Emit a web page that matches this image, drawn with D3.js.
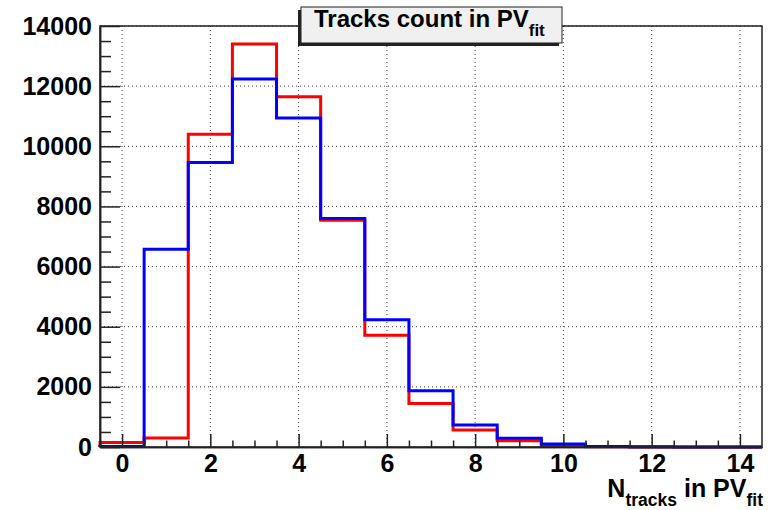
<!DOCTYPE html>
<html>
<head>
<meta charset="utf-8">
<script src="https://cdn.jsdelivr.net/npm/d3@7"></script>
<style>
  body { margin: 0; background: #fff; }
  svg { display: block; font-family: "Liberation Sans", Arial, sans-serif; font-weight: bold; }
</style>
</head>
<body>
<div id="chart"></div>
<script>
// bin centers 0..14 (bin width 1)
const bins = d3.range(0, 15);
// two histograms, counts per bin
const redCounts = [150, 300, 10400, 13400, 11650, 7540, 3720, 1450, 565, 210, 60, 10, 0, 0, 0];
const blueCounts = [20, 6580, 9460, 12240, 10940, 7600, 4230, 1870, 730, 290, 100, 15, 5, 0, 0];
const xTicks = [0, 2, 4, 6, 8, 10, 12, 14];
const yTicks = [0, 2000, 4000, 6000, 8000, 10000, 12000, 14000];

const width = 768;
const height = 510;
const margin = { top: 26, right: 6, bottom: 63, left: 100 };

const svg = d3.select('#chart')
  .append('svg')
  .attr('width', width)
  .attr('height', height);

// x-as: van -0.5 tot 14.5
const x = d3.scaleLinear()
  .domain([-0.5, 14.5])
  .range([margin.left, width - margin.right]);

const y = d3.scaleLinear()
  .domain([0, 14000])
  .range([height - margin.bottom, margin.top]);

// grid (stippellijnen)
const grid = svg.append('g')
  .attr('stroke', '#444')
  .attr('stroke-width', 1)
  .attr('stroke-dasharray', '1,3');

grid.selectAll('.gx')
  .data(xTicks)
  .join('line')
  .attr('x1', d => x(d)).attr('x2', d => x(d))
  .attr('y1', y(0)).attr('y2', y(14000));

grid.selectAll('.gy')
  .data(yTicks.slice(1))
  .join('line')
  .attr('x1', x(-0.5)).attr('x2', x(14.5))
  .attr('y1', d => y(d)).attr('y2', d => y(d));

// histogram als step-lijn
function stepPoints(counts) {
  const pts = [[-0.5, 0]];
  counts.forEach((c, i) => pts.push([bins[i] - 0.5, c]));
  pts.push([14.5, counts[counts.length - 1]]);
  pts.push([14.5, 0]);
  return pts;
}

const line = d3.line()
  .x(d => x(d[0]))
  .y(d => y(d[1]))
  .curve(d3.curveStepAfter);

svg.append('path')
  .datum(stepPoints(redCounts))
  .attr('fill', 'none')
  .attr('stroke', '#ff0000')
  .attr('stroke-width', 3)
  .attr('d', line);

svg.append('path')
  .datum(stepPoints(blueCounts))
  .attr('fill', 'none')
  .attr('stroke', '#0000ff')
  .attr('stroke-width', 3)
  .attr('d', line);

// frame
svg.append('rect')
  .attr('x', x(-0.5))
  .attr('y', y(14000))
  .attr('width', x(14.5) - x(-0.5))
  .attr('height', y(0) - y(14000))
  .attr('fill', 'none')
  .attr('stroke', '#222')
  .attr('stroke-width', 1.5);

// y-as
svg.append('g')
  .attr('transform', `translate(${x(-0.5)},0)`)
  .call(d3.axisLeft(y).tickValues(yTicks).tickFormat(d3.format('d')).tickSize(-20).tickPadding(8).tickSizeOuter(0));

svg.append('g')
  .attr('transform', `translate(${x(-0.5)},0)`)
  .call(d3.axisLeft(y).tickValues(d3.range(500, 14000, 500).filter(v => v % 2000 !== 0)).tickSize(-11).tickFormat('').tickSizeOuter(0));

// x-as
svg.append('g')
  .attr('transform', `translate(0,${y(0)})`)
  .call(d3.axisBottom(x).tickValues(xTicks).tickFormat(d3.format('d')).tickSize(-13).tickPadding(7).tickSizeOuter(0));

svg.append('g')
  .attr('transform', `translate(0,${y(0)})`)
  .call(d3.axisBottom(x).tickValues(d3.range(-0.5, 14.5, 0.5).filter(v => v % 2 !== 0)).tickSize(-6.5).tickFormat('').tickSizeOuter(0));

svg.selectAll('.domain').attr('stroke', '#222').attr('stroke-width', 1.5);
svg.selectAll('.tick line').attr('stroke', '#222').attr('stroke-width', 1.5);
svg.selectAll('.tick text')
  .style('font-size', '25px')
  .style('font-family', '"Liberation Sans", Arial, sans-serif')
  .style('font-weight', 'bold')
  .attr('fill', '#000');

// x-as titel: N_tracks in PV_fit
const xt = svg.append('text')
  .attr('x', x(14.5) + 1)
  .attr('y', 497)
  .attr('text-anchor', 'end')
  .style('font-size', '25px');
xt.append('tspan').text('N');
xt.append('tspan').attr('dy', 9).style('font-size', '17.5px').text('tracks');
xt.append('tspan').attr('dy', -9).text(' in PV');
xt.append('tspan').attr('dy', 9).style('font-size', '17.5px').text('fit');

// titel box
const tb = { x0: 301, x1: 562, y0: 7, y1: 43 };
svg.append('rect')
  .attr('x', tb.x0 - 3).attr('y', tb.y0 + 3)
  .attr('width', tb.x1 - tb.x0).attr('height', tb.y1 - tb.y0)
  .attr('fill', '#222');
svg.append('rect')
  .attr('x', tb.x0).attr('y', tb.y0)
  .attr('width', tb.x1 - tb.x0).attr('height', tb.y1 - tb.y0)
  .attr('fill', '#f0f0f0')
  .attr('stroke', '#222')
  .attr('stroke-width', 1);

const tt = svg.append('text')
  .attr('x', 314)
  .attr('y', 27)
  .style('font-size', '24px');
tt.append('tspan').text('Tracks count in PV');
tt.append('tspan').attr('dy', 9).style('font-size', '17px').text('fit');
</script>
</body>
</html>
